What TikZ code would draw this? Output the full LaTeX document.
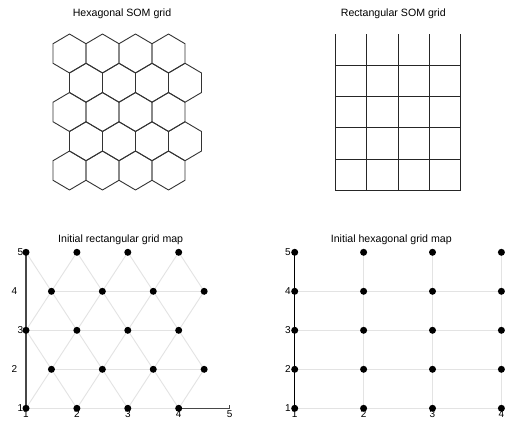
\documentclass[tikz,border=0pt]{standalone}
\usepackage{fontspec}
\setmainfont{Liberation Sans}
\begin{document}
\begin{tikzpicture}[x=1pt,y=-1pt,
  hexline/.style={draw=black!80,line width=0.9pt,line join=round},
  gridline/.style={draw=black!85,line width=0.9pt},
  lattice/.style={draw=black!11,line width=0.9pt},
  axisdark/.style={draw=black!72,line width=1.1pt},
  axisblack/.style={draw=black,line width=1.2pt},
  dot/.style={circle,fill=black,inner sep=0pt,minimum size=7pt},
  title/.style={font=\fontsize{10.6}{12}\selectfont,inner sep=0pt},
  ticklab/.style={font=\fontsize{10}{11}\selectfont,inner sep=0pt}]
\useasboundingbox (0,0) rectangle (506,423);
\fill[white] (0,0) rectangle (506,423);

% ---------- Hexagonal SOM grid ----------
\node[title] (t1) at (122,14) {Hexagonal SOM grid};
\foreach \r in {0,...,4} \foreach \i in {0,...,3} {
  \pgfmathsetmacro\cx{69.5+33*\i+16.5*mod(\r,2)}
  \pgfmathsetmacro\cy{53.5+29.25*\r}
  \begin{scope}[shift={(\cx,\cy)}]
    \draw[hexline] (0,-19.5) -- (16.5,-9.75) -- (16.5,9.75) -- (0,19.5)
      -- (-16.5,9.75) -- (-16.5,-9.75) -- cycle;
  \end{scope}
}

% ---------- Rectangular SOM grid ----------
\node[title] (t2) at (393.3,14) {Rectangular SOM grid};
\foreach \k in {0,...,4}
  \draw[gridline] ({335.7+31.2*\k},34) -- ({335.7+31.2*\k},190.3);
\foreach \k in {1,...,5}
  \draw[gridline] (335.3,{34+31.26*\k}) -- (460.9,{34+31.26*\k});

% ---------- Initial rectangular grid map ----------
\node[title] (t3) at (120.7,239.3) {Initial rectangular grid map};
\foreach \b in {1,...,5} \foreach \a in {1,...,4} {
  \pgfmathsetmacro\xv{\a+0.5*(1-mod(\b,2))}
  \coordinate (L-\a-\b) at ({26+(\xv-1)*50.9},{408.3-(\b-1)*39});
}
\coordinate (Lx5) at (229.6,408.3);
\draw[axisdark] (L-1-1) -- (L-1-5);
\draw[axisdark] (L-1-1) -- (Lx5);
\draw[axisdark] (Lx5) -- ++(0,-3.5);
\foreach \b in {2,4} \draw[axisdark] (L-1-\b) ++(-26+23.5,0) -- ++(2.5,0);
\foreach \b [evaluate=\b as \c using int(\b+1)] in {1,...,4} {
  \draw[lattice] (L-1-\b) -- (L-4-\b);
  \foreach \a in {1,...,4} \draw[lattice] (L-\a-\b) -- (L-\a-\c);
}
\foreach \b/\c in {1/2,3/4} \foreach \a/\d in {2/1,3/2,4/3}
  \draw[lattice] (L-\a-\b) -- (L-\d-\c);
\foreach \b/\c in {2/3,4/5} \foreach \a/\d in {1/2,2/3,3/4}
  \draw[lattice] (L-\a-\b) -- (L-\d-\c);
\foreach \b in {1,...,5} \foreach \a in {1,...,4}
  \node[dot] (dL-\a-\b) at (L-\a-\b) {};
% tick labels
\foreach \v/\x in {1/26,2/76.9,3/127.8,4/178.7,5/229.6}
  \node[ticklab] (Lxl\v) at (\x,413.8) {\v};
\foreach \v in {1,3,5}
  \node[ticklab,anchor=east] (Lyl\v) at ({23.3},{408.3-(\v-1)*39}) {\v};
\foreach \v in {2,4}
  \node[ticklab,anchor=east] (Lyl\v) at ({17.5},{408.3-(\v-1)*39}) {\v};

% ---------- Initial hexagonal grid map ----------
\node[title] (t4) at (391.3,239.3) {Initial hexagonal grid map};
\foreach \b in {1,...,5} \foreach \a in {1,...,4}
  \coordinate (R-\a-\b) at ({294.7+(\a-1)*68.9},{408.3-(\b-1)*39});
\foreach \b in {1,...,4} \draw[lattice] (R-1-\b) -- (R-4-\b);
\foreach \a in {2,...,4} \draw[lattice] (R-\a-1) -- (R-\a-5);
\draw[axisblack] (R-1-1) -- (R-1-5);
\foreach \b in {1,...,5} \foreach \a in {1,...,4}
  \node[dot] (dR-\a-\b) at (R-\a-\b) {};
\foreach \v in {1,...,4}
  \node[ticklab] (Rxl\v) at ({294.7+(\v-1)*68.9},413.8) {\v};
\foreach \v in {1,...,5}
  \node[ticklab,anchor=east] (Ryl\v) at (290.8,{408.3-(\v-1)*39}) {\v};
\end{tikzpicture}
\end{document}
